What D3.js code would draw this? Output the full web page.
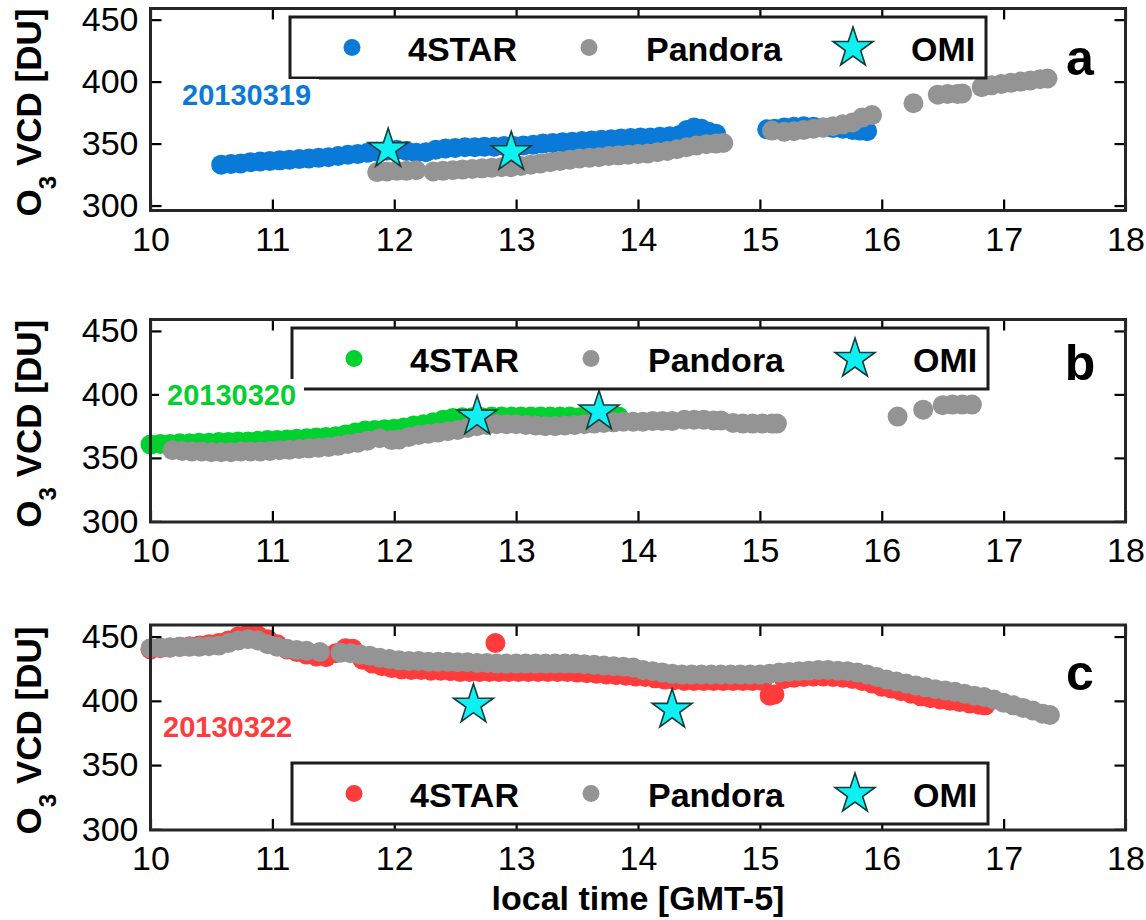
<!DOCTYPE html>
<html>
<head>
<meta charset="utf-8">
<script src="https://cdn.jsdelivr.net/npm/d3@7"></script>
<style>
  body { margin: 0; background: #fff; }
  text { font-family: "Liberation Sans", Arial, Helvetica, sans-serif; }
</style>
</head>
<body>
<div id="chart"></div>
<script>
// O3 vertical column density: 4STAR vs Pandora vs OMI, three days

const xTicks = [10, 11, 12, 13, 14, 15, 16, 17, 18];
const yTicks = [300, 350, 400, 450];
const seriesNames = ['4STAR', 'Pandora', 'OMI'];
const dates = ['20130319', '20130320', '20130322'];
const panelLetters = ['a', 'b', 'c'];

// --- panel a (20130319) ---
const aStarTime = [10.58,10.66,10.74,10.82,10.90,10.98,11.06,11.14,11.22,11.30,11.38,11.46,11.54,11.62,11.70,11.78,11.86,11.94,12.02,12.10,
  12.18,12.26,12.34,12.42,12.50,12.58,12.66,12.74,12.82,12.90,12.98,13.06,13.14,13.22,13.30,13.38,13.46,13.54,13.62,13.70,
  13.78,13.86,13.94,14.02,14.10,14.18,14.26,14.34,14.40,14.46,14.52,14.58,14.64,
  15.06,15.12,15.20,15.28,15.36,15.44,15.52,15.60,15.68,15.76,15.82,15.88];
const aStarO3 = [333,333.5,334,335,335.5,336,336.5,337,337.5,338,338.5,339,340,341,341.5,342.5,343.5,344.5,345,344,
  342.5,343,345,346,346.5,347,347,347.5,347.5,348,348,348.5,349,350,350.5,351,351.5,352,352.5,353,
  353.5,354,354.5,355,355,355.5,356,357,361,363,362,359.5,358,
  361.5,362,363,363.5,364,363.5,363,362.5,362,361,360.5,360];
const aPanTime = [11.86,11.94,12.02,12.10,12.18,
  12.32,12.40,12.48,12.56,12.64,12.72,12.80,12.88,12.96,13.04,13.12,13.20,13.28,13.36,13.44,13.52,13.60,13.68,13.76,13.84,
  13.92,14.00,14.08,14.16,14.24,14.32,14.40,14.48,14.56,14.64,14.70,
  15.10,15.20,15.28,15.36,15.44,15.52,15.60,15.68,15.76,15.84,15.92,
  16.26, 16.46,16.54,16.62,16.66,
  16.82,16.90,16.98,17.06,17.14,17.22,17.30,17.36];
const aPanO3 = [327,327.5,328,328,328.5,
  327.5,328,328.5,329,329.5,330,330.5,331,331,332,333,334,335,336,337,338,338.5,339,340,340.5,
  341,341.5,342,343,344,345.5,347,348.5,349.5,350,350.5,
  360.5,359.5,360,361,362,363,364,365.5,367,371,373,
  382.5, 389.5,390,390,390.5,
  395.5,397,398,399,400,401,402,402.5];
const aOmiTime = [11.95, 12.96];
const aOmiO3 = [345.5, 343];

// --- panel b (20130320) ---
const bStarTime = [10.00,10.08,10.16,10.24,10.32,10.40,10.48,10.56,10.64,10.72,10.80,10.88,10.96,11.04,11.12,11.20,11.28,11.36,11.44,11.52,
  11.60,11.68,11.76,11.84,11.92,12.00,12.08,12.16,12.24,12.32,12.40,12.48,12.56,12.64,12.72,12.80,12.88,12.96,13.04,13.12,
  13.20,13.28,13.36,13.44,13.52,13.60,13.68,13.76,13.84];
const bStarO3 = [360.5,361,361,361.5,361.5,362,362,362.5,362.5,363,363,363.5,364,364,364.5,365,365.5,366,366.5,367,
  368.5,370,371.5,372,372.5,373,374,375.5,376.5,378,380,381.5,382,382,382,382.5,382.5,382.5,382.5,382.5,
  382.5,382.5,382.5,382.5,382,382,382.5,382.5,382.5];
const bPanTime = [10.18,10.26,10.34,10.42,10.50,10.58,10.66,10.74,10.82,10.90,10.98,11.06,11.14,11.22,11.30,11.38,11.46,11.54,11.62,11.70,
  11.78,11.88,11.98,12.04,12.12,12.20,12.28,12.36,12.44,12.52,12.60,12.68,12.76,12.84,12.92,13.00,13.08,13.16,13.24,13.32,
  13.40,13.48,13.56,13.64,13.72,13.80,13.88,13.96,14.04,14.12,14.20,14.28,
  14.38,14.46,14.54,14.62,14.68,
  14.78,14.86,14.94,15.02,15.10,15.14,
  16.13, 16.34, 16.50,16.58,16.66,16.74];
const bPanO3 = [356,355.5,355,355,354.5,354.5,354.5,355,355,355,355.5,356,356.5,357,357.5,358,358.5,359.5,361,362,
  363.5,365.5,364,364.5,366.5,368,369,370,371,372,373.5,375,376,376.5,376.5,376.5,376,375.5,375,375,
  375.5,376,376.5,377,377.5,378,378.5,378.5,378.5,379,379,379,
  380,380,380,379.5,379.5,
  377.5,377,377,377,377,377,
  382.5, 388, 391.5,392,392,392];
const bOmiTime = [12.68, 13.68];
const bOmiO3 = [382.5, 386.5];

// --- panel c (20130322) ---
const cStarTime = [10.00,10.08,10.16,10.24,10.32,10.40,10.48,10.56,10.64,10.72,10.80,10.88,10.96,11.04,11.12,11.20,11.28,11.36,11.44,11.52,
  11.60,11.66,11.74,11.82,11.90,11.98,12.06,12.14,12.22,12.30,12.38,12.46,12.54,12.62,12.70,12.78,12.86,12.94,13.02,13.10,
  13.18,13.26,13.34,13.42,13.50,13.58,13.66,13.74,13.82,13.90,13.98,14.06,14.14,14.22,14.30,14.38,14.46,14.54,14.62,14.70,
  14.78,14.86,14.94,15.02,15.08,15.12,15.20,15.28,15.36,15.44,15.52,15.60,15.68,15.76,15.84,15.92,16.00,16.08,16.16,16.24,
  16.32,16.40,16.48,16.56,16.64,16.72,16.80,16.85, 12.83];
const cStarO3 = [440,441,441.5,442,442.5,443,444,445,447,450,452,451,448,444,440,438,436,434.5,434,437,
  441,440.5,432,429,427,425.5,424.5,424,424,423.5,423.5,423,422.5,422.5,422.5,422.5,422.5,422.5,422.5,422.5,
  422.5,422.5,422.5,422.5,422,421.5,421,420.5,420,419.5,419,418.5,417.5,416.5,416,415.5,415.5,415.5,415.5,415.5,
  415.5,415.5,415.5,415.5,404,405,417,418,418.5,419,419,418.5,418,417,415.5,413.5,411,409.5,407.5,405.5,
  403.5,402,401,400,399,398,397,396.5, 445];
const cPanTime = [10.00,10.08,10.16,10.24,10.32,10.40,10.48,10.56,10.64,10.72,10.80,10.88,10.96,11.04,11.12,11.20,11.28,
  11.39, 11.56,11.64,11.72,11.80,11.88,11.96,12.04,12.12,12.20,12.28,12.36,12.44,12.52,12.60,12.68,12.76,12.84,12.92,
  13.00,13.08,13.16,13.24,13.32,13.40,13.48,13.56,13.64,13.72,13.80,13.88,13.96,14.04,14.12,14.20,14.28,14.36,14.44,14.52,
  14.60,14.68,14.76,14.84,14.92,15.00,15.08,15.16,15.24,15.32,15.40,15.48,15.56,15.64,15.72,15.80,15.88,15.96,16.04,16.12,
  16.20,16.28,16.36,16.44,16.52,16.60,16.68,16.76,16.84,16.92,17.00,17.08,17.16,17.24,17.32,17.38];
const cPanO3 = [441,441.5,441.5,442,442,442,442.5,443,445,447,448,447,444,442,440.5,439.5,439,
  438, 437.5,437,436,435,433.5,432.5,431.5,431,431,430.5,430.5,430.5,430,430,429.5,429.5,429,429,
  429,429,429,429,429,429,429,428.5,428,427.5,427,426.5,426,424,423,422,421,420.5,420.5,420.5,
  420.5,420.5,420.5,420.5,420.5,420.5,421,422,422.5,423,423.5,424,424,423.5,423,422,420.5,418.5,416.5,415,
  413.5,412,410.5,409,408,407,405.5,404,403,401,398.5,396.5,394.5,392.5,390,389];
const cOmiTime = [12.65, 14.28];
const cOmiO3 = [397, 393];

const starColors = ['#0a7ad8', '#00d12e', '#ff3b3b'];
const panGray = '#949494';
const omiCyan = '#0ff0f2';

// layout of the three panels (pixels)
const panels = [
  { top: 8.5, bottom: 210.5, yDomain: [296, 459], star: [aStarTime, aStarO3], pan: [aPanTime, aPanO3], omi: [aOmiTime, aOmiO3],
    legendX: 290, legendY: 17, dateX: 182, dateY: 105, letterY: 75 },
  { top: 319.5, bottom: 522, yDomain: [299.5, 459], star: [bStarTime, bStarO3], pan: [bPanTime, bPanO3], omi: [bOmiTime, bOmiO3],
    legendX: 292, legendY: 328, dateX: 167, dateY: 405, letterY: 380 },
  { top: 625, bottom: 830, yDomain: [299.5, 459], star: [cStarTime, cStarO3], pan: [cPanTime, cPanO3], omi: [cOmiTime, cOmiO3],
    legendX: 292, legendY: 763, dateX: 163, dateY: 737, letterY: 690 }
];

function starPath(R) {
  const r = R * 0.382;
  const pts = [];
  for (let i = 0; i < 10; i++) {
    const a = -Math.PI / 2 + i * Math.PI / 5;
    const rr = i % 2 ? r : R;
    pts.push([rr * Math.cos(a), rr * Math.sin(a)]);
  }
  return 'M' + pts.map(p => p[0].toFixed(2) + ',' + p[1].toFixed(2)).join('L') + 'Z';
}

const svg = d3.select('#chart').append('svg')
  .attr('width', 1146)
  .attr('height', 920);

const x = d3.scaleLinear().domain([10, 18]).range([150.5, 1125.5]);

const dotR = 10;
const starD = starPath(21);

panels.forEach((p, i) => {
  const y = d3.scaleLinear().domain(p.yDomain).range([p.bottom, p.top]);
  const g = svg.append('g');
  const color = starColors[i];

  // 4STAR first, Pandora drawn on top
  g.append('g').selectAll('circle')
    .data(d3.zip(p.star[0], p.star[1]))
    .join('circle')
    .attr('cx', d => x(d[0]))
    .attr('cy', d => y(d[1]))
    .attr('r', dotR)
    .attr('fill', color);

  g.append('g').selectAll('circle')
    .data(d3.zip(p.pan[0], p.pan[1]))
    .join('circle')
    .attr('cx', d => x(d[0]))
    .attr('cy', d => y(d[1]))
    .attr('r', dotR)
    .attr('fill', panGray);

  g.append('g').selectAll('path')
    .data(d3.zip(p.omi[0], p.omi[1]))
    .join('path')
    .attr('transform', d => `translate(${x(d[0])},${y(d[1])})`)
    .attr('d', starD)
    .attr('fill', omiCyan)
    .attr('stroke', '#123c3c')
    .attr('stroke-width', 1.6);

  // axes, ticks pointing inward on all four sides
  const fmt = d3.format('d');
  const bottomAxis = g.append('g')
    .attr('transform', `translate(0,${p.bottom})`)
    .call(d3.axisBottom(x).tickValues(xTicks).tickSize(-11).tickSizeOuter(0).tickPadding(16).tickFormat(fmt));
  const topAxis = g.append('g')
    .attr('transform', `translate(0,${p.top})`)
    .call(d3.axisTop(x).tickValues(xTicks).tickSize(-11).tickSizeOuter(0).tickFormat(''));
  const leftAxis = g.append('g')
    .attr('transform', `translate(${x.range()[0]},0)`)
    .call(d3.axisLeft(y).tickValues(yTicks).tickSize(-11).tickSizeOuter(0).tickPadding(12).tickFormat(fmt));
  const rightAxis = g.append('g')
    .attr('transform', `translate(${x.range()[1]},0)`)
    .call(d3.axisRight(y).tickValues(yTicks).tickSize(-11).tickSizeOuter(0).tickFormat(''));

  [bottomAxis, topAxis, leftAxis, rightAxis].forEach(ax => {
    ax.select('.domain').remove();
    ax.attr('font-size', 34).attr('font-family', '"Liberation Sans", Arial, sans-serif').attr('color', '#000');
    ax.selectAll('.tick line').attr('stroke', '#000').attr('stroke-width', 2.2);
  });

  // axes box
  g.append('rect')
    .attr('x', x.range()[0])
    .attr('y', p.top)
    .attr('width', x.range()[1] - x.range()[0])
    .attr('height', p.bottom - p.top)
    .attr('fill', 'none')
    .attr('stroke', '#262626')
    .attr('stroke-width', 3);

  // legend
  const lg = g.append('g').attr('transform', `translate(${p.legendX},${p.legendY})`);
  lg.append('rect')
    .attr('width', 696)
    .attr('height', 61)
    .attr('fill', '#fff')
    .attr('stroke', '#1c1c1c')
    .attr('stroke-width', 3);
  lg.append('circle').attr('cx', 62).attr('cy', 30.5).attr('r', 8.5).attr('fill', color);
  lg.append('text').attr('x', 118).attr('y', 44).text(seriesNames[0]);
  lg.append('circle').attr('cx', 299).attr('cy', 30.5).attr('r', 8.5).attr('fill', panGray);
  lg.append('text').attr('x', 356).attr('y', 44).text(seriesNames[1]);
  lg.append('path').attr('transform', 'translate(563,31)').attr('d', starD)
    .attr('fill', omiCyan).attr('stroke', '#123c3c').attr('stroke-width', 1.6);
  lg.append('text').attr('x', 621).attr('y', 44).text(seriesNames[2]);
  lg.selectAll('text').attr('font-size', 34).attr('font-weight', 'bold').attr('fill', '#000');

  // date label with white background
  const dg = g.append('g');
  const dt = dg.append('text')
    .attr('x', p.dateX)
    .attr('y', p.dateY)
    .attr('font-size', 29)
    .attr('font-weight', 'bold')
    .attr('fill', color)
    .text(dates[i]);
  const bb = dt.node().getBBox();
  dg.insert('rect', 'text')
    .attr('x', bb.x - 8)
    .attr('y', bb.y)
    .attr('width', bb.width + 16)
    .attr('height', bb.height + 4)
    .attr('fill', '#fff');

  // panel letter
  g.append('text')
    .attr('x', 1080)
    .attr('y', p.letterY)
    .attr('text-anchor', 'middle')
    .attr('font-size', 50)
    .attr('font-weight', 'bold')
    .text(panelLetters[i]);

  // y axis title
  const yt = g.append('text')
    .attr('transform', `translate(41,${(p.top + p.bottom) / 2 + 3}) rotate(-90)`)
    .attr('text-anchor', 'middle')
    .attr('font-size', 35)
    .attr('font-weight', 'bold');
  yt.append('tspan').text('O');
  yt.append('tspan').attr('font-size', 24).attr('dy', 15).text('3');
  yt.append('tspan').attr('dy', -15).text(' VCD [DU]');
});

svg.append('text')
  .attr('x', (x.range()[0] + x.range()[1]) / 2)
  .attr('y', 910)
  .attr('text-anchor', 'middle')
  .attr('font-size', 34)
  .attr('font-weight', 'bold')
  .text('local time [GMT-5]');
</script>
</body>
</html>
